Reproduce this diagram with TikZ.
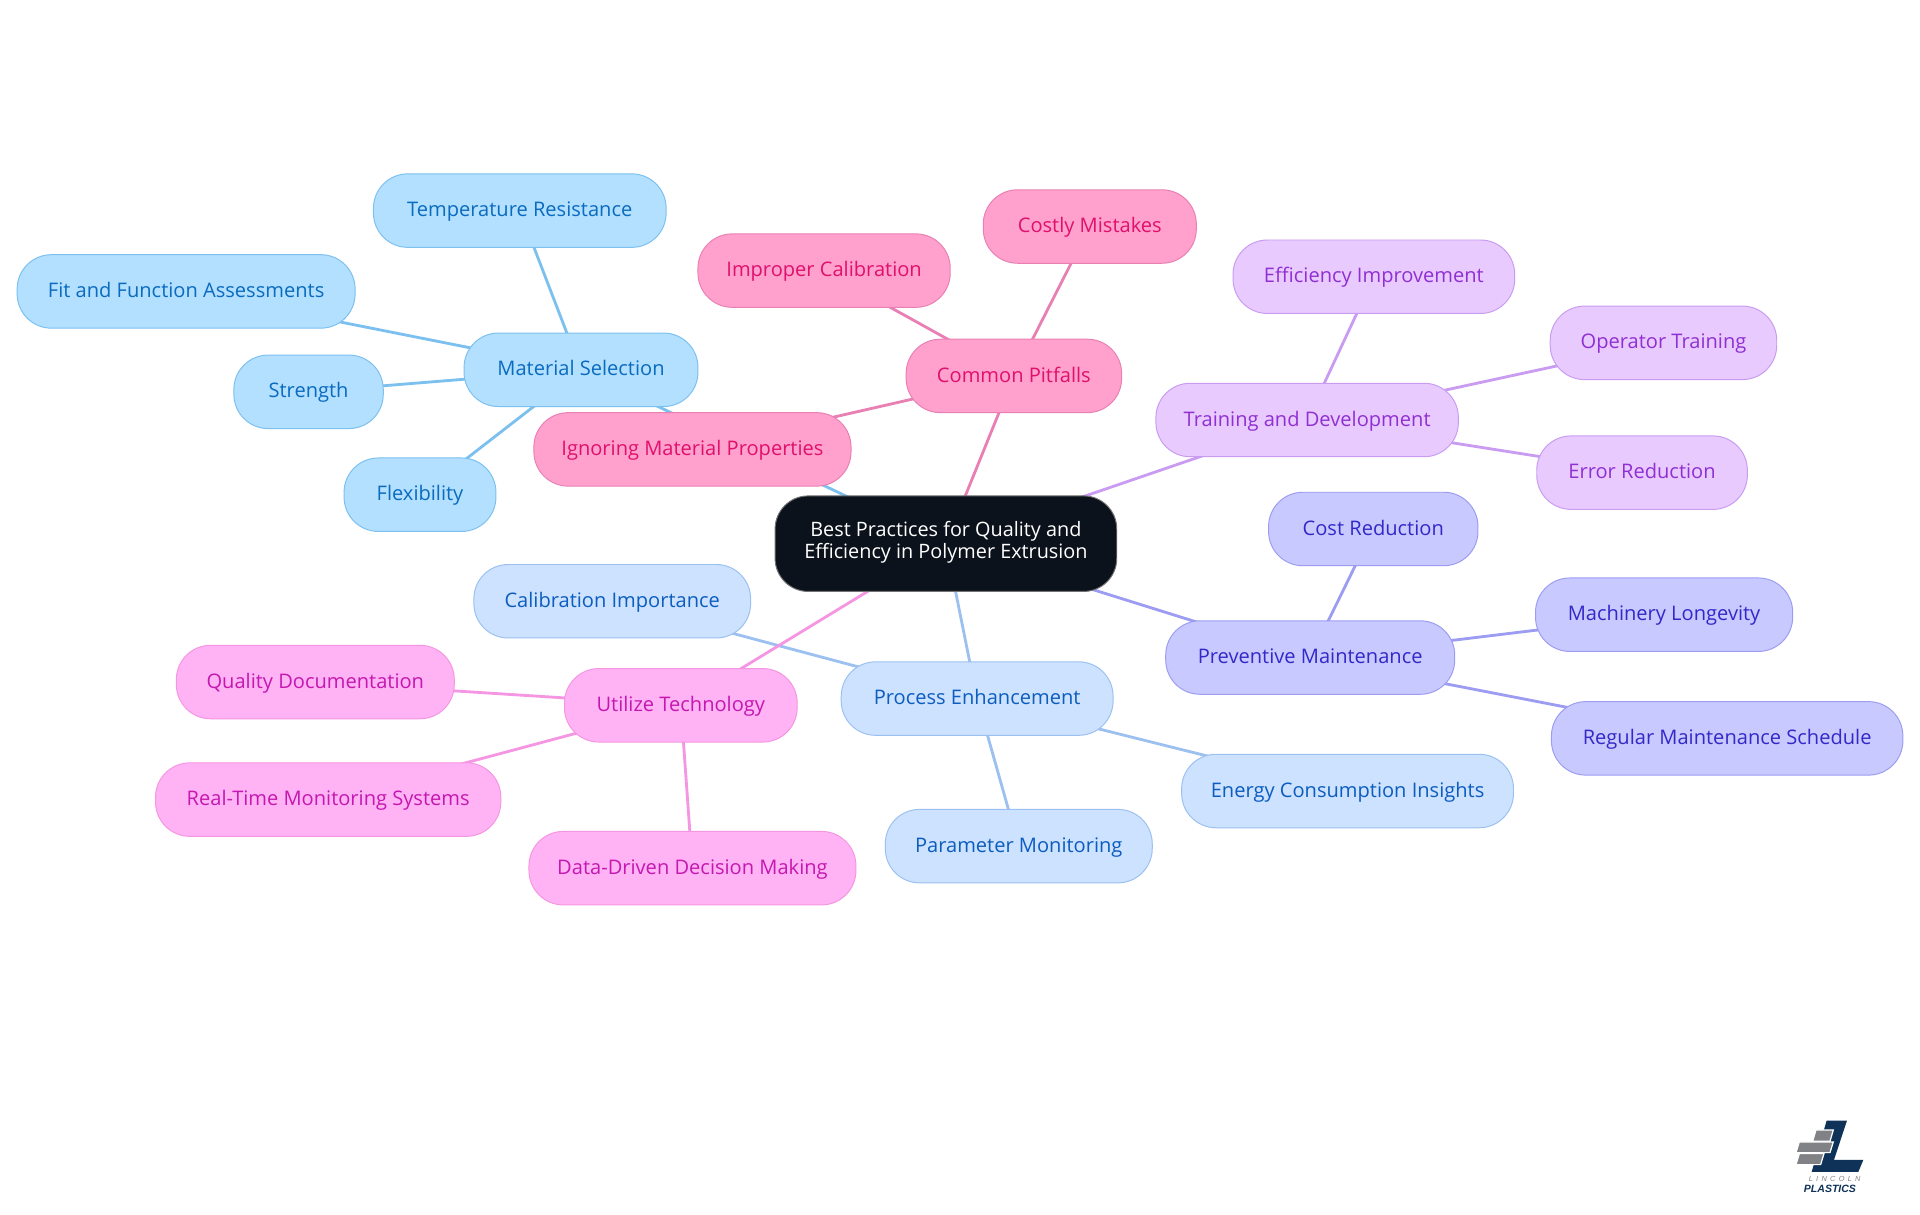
\documentclass[tikz,border=0pt]{standalone}
\usepackage{fontspec}
\setmainfont{Open Sans}
\newfontfamily\lgA{Liberation Sans}[LetterSpace=45]
\newfontfamily\lgB{Liberation Sans}[BoldFont=Liberation Sans Bold]
\usetikzlibrary{backgrounds}
\definecolor{fM}{HTML}{B3E0FF}\definecolor{sM}{HTML}{7CC0F0}\definecolor{tM}{HTML}{0A6BBF}
\definecolor{fP}{HTML}{CCE2FF}\definecolor{sP}{HTML}{9CC0F0}\definecolor{tP}{HTML}{0D5DBF}
\definecolor{fV}{HTML}{C8CAFF}\definecolor{sV}{HTML}{9C9CF2}\definecolor{tV}{HTML}{3328C8}
\definecolor{fT}{HTML}{E8CAFF}\definecolor{sT}{HTML}{C99CF2}\definecolor{tT}{HTML}{9030D2}
\definecolor{fC}{HTML}{FFA1CC}\definecolor{sC}{HTML}{E880B4}\definecolor{tC}{HTML}{E0106E}
\definecolor{fU}{HTML}{FFB3F5}\definecolor{sU}{HTML}{F596E2}\definecolor{tU}{HTML}{C418B0}
\definecolor{rootc}{HTML}{0B121B}
\definecolor{navy}{HTML}{0F3358}\definecolor{logogray}{HTML}{808285}
\tikzset{
  x=1pt,y=-1pt,
  pill/.style={rounded corners=28pt,inner sep=0pt,line width=0.8pt,minimum height=60pt,
    text height=12pt,text depth=2pt,font=\fontsize{16.4}{18}\selectfont},
  fam/.style={pill,fill=f#1,draw=s#1,text=t#1},
  rootnode/.style={rounded corners=27pt,inner sep=0pt,line width=0.8pt,fill=rootc,draw=black!55,text=white,
    align=center,minimum width=279pt,minimum height=78pt,font=\fontsize{16.2}{18}\selectfont},
  link/.style={line width=2.3pt,line cap=butt},
  linkM/.style={link,draw=sM},linkP/.style={link,draw=sP},linkV/.style={link,draw=sV},
  linkT/.style={link,draw=sT},linkC/.style={link,draw=sC},linkU/.style={link,draw=sU},
}
\begin{document}
\begin{tikzpicture}
\useasboundingbox (0,0) rectangle (1568,992);
\node[rootnode] (root) at (772.5,444) {Best Practices for Quality and\\Efficiency in Polymer Extrusion\\[-17pt]\strut};
% Material
\node[fam=M,minimum width=191pt] (ms) at (474.5,302) {Material Selection};
\node[fam=M,minimum width=239pt] (ms1) at (424.5,172) {Temperature Resistance};
\node[fam=M,minimum width=276pt] (ms2) at (152,238) {Fit and Function Assessments};
\node[fam=M,minimum width=122pt] (ms3) at (252,320) {Strength};
\node[fam=M,minimum width=124pt] (ms4) at (343,404) {Flexibility};
% Process
\node[fam=P,minimum width=222pt] (pe) at (798,570.5) {Process Enhancement};
\node[fam=P,minimum width=226pt] (pe1) at (500,491) {Calibration Importance};
\node[fam=P,minimum width=271pt] (pe2) at (1100.5,646) {Energy Consumption Insights};
\node[fam=P,minimum width=218pt] (pe3) at (832,691) {Parameter Monitoring};
% Preventive
\node[fam=V,minimum width=236pt] (pm) at (1070,537) {Preventive Maintenance};
\node[fam=V,minimum width=171pt] (pm1) at (1121.5,432) {Cost Reduction};
\node[fam=V,minimum width=210pt] (pm2) at (1359,502) {Machinery Longevity};
\node[fam=V,minimum width=287pt] (pm3) at (1410.5,603) {Regular Maintenance Schedule};
% Training
\node[fam=T,minimum width=247pt] (td) at (1067.5,343) {Training and Development};
\node[fam=T,minimum width=230pt] (td1) at (1122,226) {Efficiency Improvement};
\node[fam=T,minimum width=185pt] (td2) at (1358.5,280) {Operator Training};
\node[fam=T,minimum width=172pt] (td3) at (1341,386) {Error Reduction};
% Pitfalls
\node[fam=C,minimum width=176pt] (cp) at (828,307) {Common Pitfalls};
\node[fam=C,minimum width=259pt] (cp1) at (565.5,367) {Ignoring Material Properties};
\node[fam=C,minimum width=206pt] (cp2) at (673,221) {Improper Calibration};
\node[fam=C,minimum width=174pt] (cp3) at (890,185) {Costly Mistakes};
% Technology
\node[fam=U,minimum width=190pt] (ut) at (556,576) {Utilize Technology};
\node[fam=U,minimum width=227pt] (ut1) at (257.5,557) {Quality Documentation};
\node[fam=U,minimum width=282pt] (ut2) at (268,653) {Real-Time Monitoring Systems};
\node[fam=U,minimum width=267pt] (ut3) at (565.5,709) {Data-Driven Decision Making};
\begin{scope}[on background layer]
\fill[white] (0,0) rectangle (1568,992);
\draw[linkM] (root.center)--(ms.center) (ms.center)--(ms1.center) (ms.center)--(ms2.center) (ms.center)--(ms3.center) (ms.center)--(ms4.center);
\draw[linkP] (root.center)--(pe.center) (pe.center)--(pe1.center) (pe.center)--(pe2.center) (pe.center)--(pe3.center);
\draw[linkV] (root.center)--(pm.center) (pm.center)--(pm1.center) (pm.center)--(pm2.center) (pm.center)--(pm3.center);
\draw[linkT] (root.center)--(td.center) (td.center)--(td1.center) (td.center)--(td2.center) (td.center)--(td3.center);
\draw[linkC] (root.center)--(cp.center) (cp.center)--(cp1.center) (cp.center)--(cp2.center) (cp.center)--(cp3.center);
\draw[linkU] (root.center)--(ut.center) (ut.center)--(ut1.center) (ut.center)--(ut2.center) (ut.center)--(ut3.center);
\end{scope}
% Logo
\begin{scope}[shift={(1437.3,898.3)},x=0.2722pt,y=-0.2722pt]
\fill[navy] (200,62)--(261,62)--(222,180)--(310,180)--(295,216)--(155,216)--cycle;
\fill[logogray,draw=white,line width=1pt] (168,90)--(220,90)--(210,124)--(158,124)--cycle;
\fill[logogray,draw=white,line width=1pt] (118,126)--(220,126)--(210,158)--(108,158)--cycle;
\fill[logogray,draw=white,line width=1pt] (118,161)--(192,161)--(182,194)--(108,194)--cycle;
\node[inner sep=0pt,text=logogray,font=\lgA\itshape\fontsize{6}{7}\selectfont] (lg1) at (224,236) {LINCOLN};
\node[inner sep=0pt,text=navy,font=\lgB\bfseries\itshape\fontsize{8.6}{10}\selectfont] (lg2) at (210,266) {PLASTICS};
\end{scope}
\end{tikzpicture}
\end{document}
